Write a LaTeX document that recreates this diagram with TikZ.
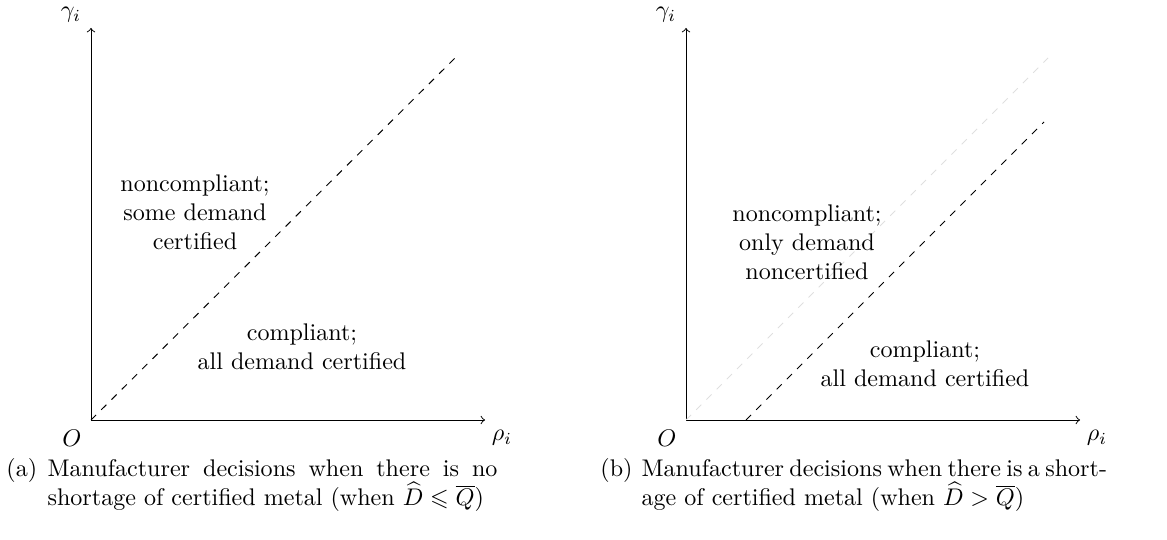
\documentclass[tikz,border=0pt]{standalone}
\usepackage{amsmath,amssymb}
\newlength\capw
\setlength\capw{6.57cm}
\tikzset{
  axis/.style={->},
  border/.style={dashed},
  oldborder/.style={border, gray!25},
  axislabel/.style={inner sep=1pt},
  region/.style={align=center},
  subcap/.style={anchor=base west, inner sep=0pt}
}
\begin{document}
\begin{tikzpicture}[x=0.0146cm,y=0.0146cm]
  \useasboundingbox (0,0) rectangle (1167,539);
  % left panel: no shortage
  \coordinate (Oa) at (91,119);
  \coordinate (ya) at (91,511);
  \coordinate (xa) at (485,119);
  \coordinate (da) at (455,481);
  \draw[axis] (Oa) -- (ya);
  \draw[axis] (Oa) -- (xa);
  \draw[border] (Oa) -- (da);
  \node[axislabel] (gammaa) at (71,524) {$\gamma_i$};
  \node[axislabel] (origa) at (72,101) {$O$};
  \node[axislabel] (rhoa) at (502,101) {$\rho_i$};
  \node[region] (upa) at (195,327) {noncompliant;\\some demand\\certified};
  \node[region] (lowa) at (302,192) {compliant;\\all demand certified};
  % right panel: shortage
  \coordinate (Ob) at (686,119);
  \coordinate (yb) at (686,511);
  \coordinate (xb) at (1080,119);
  \coordinate (db) at (1048,481);
  \coordinate (sb) at (746,119);
  \coordinate (eb) at (1044,417);
  \draw[axis] (Ob) -- (yb);
  \draw[axis] (Ob) -- (xb);
  \draw[oldborder] (Ob) -- (db);
  \draw[border] (sb) -- (eb);
  \node[axislabel] (gammab) at (666,524) {$\gamma_i$};
  \node[axislabel] (origb) at (667,101) {$O$};
  \node[axislabel] (rhob) at (1097,101) {$\rho_i$};
  \node[region] (upb) at (807,297) {noncompliant;\\only demand\\noncertified};
  \node[region] (lowb) at (925,175) {compliant;\\all demand certified};
  % captions
  \node[subcap] (capa) at (6,62) {%
    \makebox[0.6cm][l]{(a)}\parbox[t]{\capw}{%
      \makebox[\capw][s]{Manufacturer decisions when there is no}\\
      shortage of certified metal (when $\widehat{D}\leqslant\overline{Q}$)}};
  \node[subcap] (capb) at (600,62) {%
    \makebox[0.6cm][l]{(b)}\parbox[t]{\capw}{%
      \makebox[\capw][s]{Manufacturer decisions when there is a short-}\\
      age of certified metal (when $\widehat{D}>\overline{Q}$)}};
\end{tikzpicture}
\end{document}
